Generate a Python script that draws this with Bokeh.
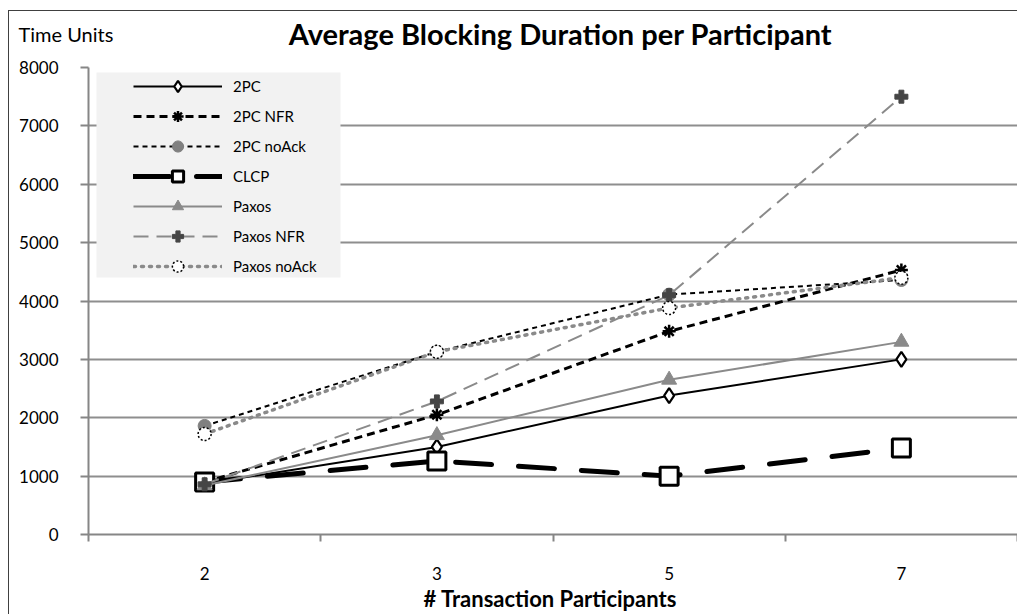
from bokeh.plotting import figure
from bokeh.models import Range1d, FixedTicker, Legend, LegendItem, BoxAnnotation, Label
from bokeh.embed import file_html
from bokeh.resources import INLINE

# ---------------- data ----------------
participants = ["2", "3", "5", "7"]
series_names = ["2PC", "2PC NFR", "2PC noAck", "CLCP", "Paxos", "Paxos NFR", "Paxos noAck"]
two_pc = [870, 1500, 2380, 3000]
two_pc_nfr = [900, 2050, 3480, 4530]
two_pc_noack = [1860, 3130, 4110, 4360]
clcp = [900, 1260, 1000, 1480]
paxos = [840, 1700, 2650, 3300]
paxos_nfr = [860, 2280, 4100, 7500]
paxos_noack = [1720, 3130, 3880, 4400]
y_ticks = [0, 1000, 2000, 3000, 4000, 5000, 6000, 7000, 8000]
title_text = "Average Blocking Duration per Participant"
y_title_text = "Time Units"
x_title_text = "# Transaction  Participants"

# ---------------- layout ----------------
FONT = "Lato"
W, H = 1017, 614
B_LEFT, B_RIGHT, B_TOP, B_BOTTOM = 88, 0, 67, 79
FRAME_H = H - B_TOP - B_BOTTOM
FRAME_W = W - B_LEFT - B_RIGHT

xs = list(range(len(participants)))
n = len(participants)

p = figure(width=W, height=H, output_backend="svg", toolbar_location=None,
           x_range=Range1d(-0.5, n - 0.5), y_range=Range1d(y_ticks[0], y_ticks[-1]),
           min_border_left=B_LEFT, min_border_right=B_RIGHT,
           min_border_top=B_TOP, min_border_bottom=B_BOTTOM)
p.title_location = None
p.outline_line_color = None
p.background_fill_color = "white"
p.border_fill_color = None
BORDER = "#404040"
p.styles = {
    "background": (f"linear-gradient({BORDER}, {BORDER}) 8px 10px / 1px calc(100% - 10px) no-repeat, "
                   f"linear-gradient({BORDER}, {BORDER}) 8px 10px / calc(100% - 8px) 1px no-repeat, "
                   "white"),
}

# title and "Time Units" placed in the top side panel (panel-relative screen units)
p.add_layout(Label(x=472, y=34, x_units="screen", y_units="screen",
                   text=title_text, text_font=FONT, text_font_size="29px",
                   text_font_style="bold", text_color="black",
                   text_align="center", text_baseline="middle"), "above")
p.add_layout(Label(x=-70, y=-1, x_units="screen", y_units="screen",
                   text=y_title_text, text_font=FONT, text_font_size="20px",
                   text_color="black", text_align="left", text_baseline="middle"), "above")

# axes
AX_COL = "#868686"
xa = p.xaxis[0]
xa.ticker = FixedTicker(ticks=xs, minor_ticks=[i - 0.5 for i in range(n + 1)])
xa.major_label_overrides = {i: lab for i, lab in enumerate(participants)}
xa.major_tick_out = 0
xa.major_tick_in = 0
xa.minor_tick_out = 7
xa.minor_tick_in = 0
xa.minor_tick_line_color = AX_COL
xa.minor_tick_line_width = 2
xa.axis_line_color = AX_COL
xa.axis_line_width = 2
xa.major_label_text_font = FONT
xa.major_label_text_font_size = "17px"
xa.major_label_text_color = "black"
xa.major_label_standoff = 25
xa.axis_label = x_title_text
xa.axis_label_text_font = FONT
xa.axis_label_text_font_size = "22px"
xa.axis_label_text_font_style = "bold"
xa.axis_label_text_color = "black"
xa.axis_label_standoff = 2

ya = p.yaxis[0]
ya.ticker = FixedTicker(ticks=y_ticks, minor_ticks=[])
ya.major_tick_out = 8
ya.major_tick_in = 0
ya.major_tick_line_color = AX_COL
ya.major_tick_line_width = 2
ya.axis_line_color = AX_COL
ya.axis_line_width = 2
ya.major_label_text_font = FONT
ya.major_label_text_font_size = "17px"
ya.major_label_text_color = "black"
ya.major_label_standoff = 22

p.xgrid.grid_line_color = None
p.ygrid.ticker = FixedTicker(ticks=y_ticks)
p.ygrid.grid_line_color = "#8e8e8e"
p.ygrid.grid_line_width = 2

# ---------------- series ----------------
styles = [
    (two_pc, dict(line_color="black", line_width=2),
     dict(marker="diamond", size=15, fill_color="white", line_color="black", line_width=2.2)),
    (two_pc_nfr, dict(line_color="black", line_width=3, line_dash="8 5"),
     dict(marker="asterisk", size=13, line_color="black", line_width=2.5)),
    (two_pc_noack, dict(line_color="black", line_width=2, line_dash="5 4"),
     dict(marker="circle", size=13, fill_color="#808080", line_color="#808080", line_width=1)),
    (clcp, dict(line_color="black", line_width=5, line_dash="36 27", line_cap="round"),
     dict(marker="square", size=18, fill_color="white", line_color="black", line_width=3)),
    (paxos, dict(line_color="#8a8a8a", line_width=2),
     dict(marker="triangle", size=15, fill_color="#8a8a8a", line_color="#8a8a8a", line_width=1)),
    (paxos_nfr, dict(line_color="#8a8a8a", line_width=2, line_dash="15 8"),
     dict(marker="plus", size=13, fill_color="#454545", line_color="#454545", line_width=1)),
    (paxos_noack, dict(line_color="#8a8a8a", line_width=3.5, line_dash="2 6", line_cap="round"),
     dict(marker="circle", size=13, fill_color="white", line_color="black", line_width=1.5,
          line_dash="2 2")),
]

items = []
for name, (vals, lkw, mkw) in zip(series_names, styles):
    lr = p.line(xs, vals, **lkw)
    sr = p.scatter(xs, vals, **mkw)
    items.append(LegendItem(label=name, renderers=[lr, sr]))

# legend background box (frame-relative screen units)
p.add_layout(BoxAnnotation(left=8, right=252, top=FRAME_H - 6, bottom=FRAME_H - 211,
                           left_units="screen", right_units="screen",
                           top_units="screen", bottom_units="screen",
                           fill_color="#f2f2f2", fill_alpha=1, line_color=None))

legend = Legend(items=items, location=(40, FRAME_H - 219), orientation="vertical",
                padding=5, spacing=2, margin=0,
                glyph_width=89, glyph_height=28, label_height=20,
                label_standoff=11, label_text_font=FONT, label_text_font_size="15px",
                label_text_color="black",
                background_fill_alpha=0, border_line_alpha=0)
p.add_layout(legend)

open("out.html", "w").write(file_html(p, INLINE))
